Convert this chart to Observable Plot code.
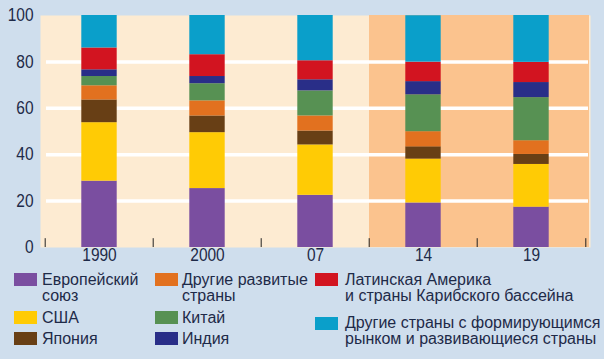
<!DOCTYPE html>
<html><head><meta charset="utf-8">
<script src="https://cdn.jsdelivr.net/npm/d3@7"></script>
<script src="https://cdn.jsdelivr.net/npm/@observablehq/plot@0.6"></script>
<style>
html,body{margin:0;padding:0;background:#cfdeed;}
#wrap{position:relative;width:604px;height:359px;background:#cfdeed;font-family:"Liberation Sans",sans-serif;color:#1e2a48;overflow:hidden;}
#chart{position:absolute;left:0;top:0;}
#legend{position:absolute;left:0;top:262px;}
</style></head>
<body><div id="wrap"><div id="chart"></div><div id="legend"></div></div>
<script>
const years = ["1990","2000","07","14","19"];
const eu       = [28.6, 25.4, 22.5, 19.2, 17.4];
const usa      = [25.2, 24.1, 21.7, 18.9, 18.4];
const japan    = [9.8, 7.2, 6.0, 5.3, 4.3];
const otherAdv = [6.1, 6.5, 6.5, 6.5, 5.9];
const china    = [4.0, 7.4, 10.8, 15.9, 18.6];
const india    = [2.9, 3.1, 4.8, 5.7, 6.5];
const latam    = [9.4, 9.4, 8.2, 8.4, 8.7];
const otherEM  = [14.0, 16.9, 19.5, 20.0, 20.2];
const shadedYears = ["14","19"];
const yTicks = [0,20,40,60,80,100];
const gridTicks = [20,40,60,80];

const seriesNames = ["Европейский союз","США","Япония","Другие развитые страны","Китай","Индия","Латинская Америка и страны Карибского бассейна","Другие страны с формирующимся рынком и развивающиеся страны"];
const seriesValues = [eu,usa,japan,otherAdv,china,india,latam,otherEM];
const seriesColors = ["#7a4ea0","#ffcb05","#683f15","#e2711f","#579153","#292e88","#d21420","#0a9fca"];

const data = [];
seriesNames.forEach((s,i)=>years.forEach((y,j)=>data.push({year:y, series:s, value:seriesValues[i][j]})));

const W=604, H=265, ML=43, MR=18;
const step=(W-ML-MR)/years.length;
const barW=36;
const inset=(step-barW)/2;
const SQUEEZE=0.86;

const chart = Plot.plot({
  width:W, height:H,
  marginLeft:ML, marginRight:MR, marginTop:15, marginBottom:18,
  style:{fontFamily:"'Liberation Sans',sans-serif", fontSize:"18px", color:"#1e2a48", background:"transparent"},
  x:{domain:years, padding:0, label:null},
  y:{domain:[0,100], label:null},
  color:{domain:seriesNames, range:seriesColors},
  marks:[
    Plot.frame({fill:"#fdebd2", stroke:null, insetLeft:-3, insetRight:-4}),
    Plot.barY(shadedYears, {x:d=>d, y1:0, y2:100, fill:"#fbc38e", insetRight:-4}),
    Plot.ruleY(gridTicks, {stroke:"#ffffff", strokeWidth:3.5, insetLeft:3, insetRight:-2}),
    Plot.ruleX(years, {x:d=>d, y1:0, y2:3.8, stroke:"#222", strokeWidth:1, dx:-step/2}),
    Plot.ruleX([years[years.length-1]], {x:d=>d, y1:0, y2:3.8, stroke:"#222", strokeWidth:1, dx:step/2}),
    Plot.barY(data, Plot.stackY({order:null}, {x:"year", y:"value", fill:"series", insetLeft:inset, insetRight:inset})),
    Plot.axisY({ticks:yTicks, tickSize:0, tickPadding:10, fontSize:18, fill:"#1e2a48"}),
    Plot.axisX({tickSize:0, tickPadding:1, fontSize:18, fill:"#1e2a48"})
  ]
});
document.getElementById("chart").appendChild(chart);
chart.querySelectorAll("text").forEach(t=>{
  const L=t.getComputedTextLength();
  if (L>0){ t.setAttribute("textLength",(L*SQUEEZE).toFixed(2)); t.setAttribute("lengthAdjust","spacingAndGlyphs"); }
});

// legend (SVG below the chart)
const legendPos = [
  {i:0, sx:14, tx:42, y:273, b:285},
  {i:1, sx:14, tx:42, y:311, b:323},
  {i:2, sx:14, tx:42, y:332, b:344},
  {i:3, sx:155, tx:182, y:273, b:285},
  {i:4, sx:155, tx:182, y:311, b:323},
  {i:5, sx:155, tx:182, y:332, b:344},
  {i:6, sx:315, tx:345, y:273, b:285},
  {i:7, sx:315, tx:345, y:317, b:328}
];
const legendLines = [
  ["Европейский","союз"],["США"],["Япония"],
  ["Другие развитые","страны"],["Китай"],["Индия"],
  ["Латинская Америка","и страны Карибского бассейна"],
  ["Другие страны с формирующимся","рынком и развивающиеся страны"]
];
const top0=262, LH=16;
const lsvg=d3.select("#legend").append("svg").attr("width",604).attr("height",359-top0)
  .style("font-family","'Liberation Sans',sans-serif").style("font-size","16px");
legendPos.forEach(p=>{
  lsvg.append("rect").attr("x",p.sx).attr("y",p.y-top0).attr("width",23).attr("height",13).attr("fill",seriesColors[p.i]);
  legendLines[p.i].forEach((line,k)=>{
    lsvg.append("text").attr("x",p.tx).attr("y",p.b-top0+k*LH).attr("fill","#1e2a48").text(line);
  });
});
</script></body></html>
